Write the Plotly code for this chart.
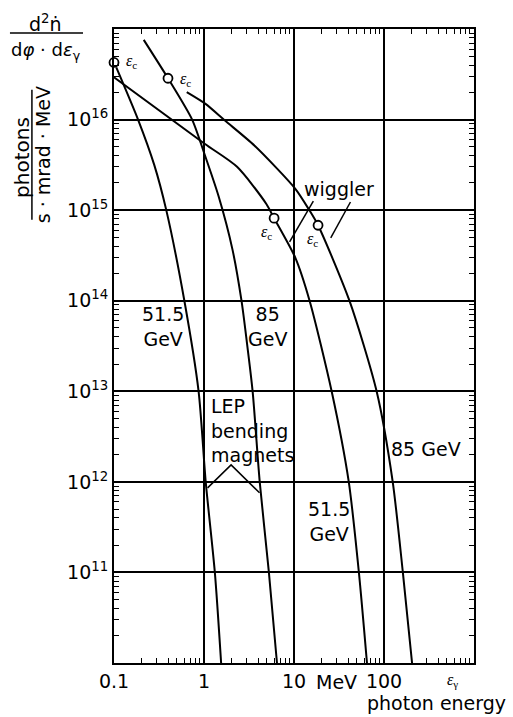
import numpy as np
import plotly.graph_objects as go

# ---------------- data (photon energy in MeV, photons / s mrad MeV) ----------------
bend_515_x = [0.106, 0.185, 0.280, 0.381, 0.605, 0.871, 1.045, 1.32, 1.55]
bend_515_y = [3.77e16, 1.0e16, 3.16e15, 1.0e15, 1.0e14, 1.0e13, 1.0e12, 1.0e11, 1.0e10]

bend_85_x = [0.214, 0.398, 0.738, 1.01, 1.45, 2.07, 2.61, 2.97, 3.47, 4.16, 5.26, 6.47]
bend_85_y = [7.59e16, 2.86e16, 1.0e16, 4.19e15, 1.43e15, 3.69e14, 1.0e14, 3.72e13, 1.0e13, 1.0e12, 1.0e11, 1.0e10]

wig_515_x = [0.100, 1.016, 2.33, 4.93, 6.01, 10.3, 14.9, 26.2, 40.6, 52.6, 64.7]
wig_515_y = [2.93e16, 5.41e15, 3.01e15, 1.17e15, 8.15e14, 3.01e14, 1.0e14, 1.0e13, 1.0e12, 1.0e11, 1.0e10]

wig_85_x = [0.643, 1.04, 1.71, 3.65, 10.4, 14.8, 18.5, 41.3, 82.8, 125, 162, 205]
wig_85_y = [2.01e16, 1.49e16, 9.75e15, 5.14e15, 1.71e15, 1.0e15, 6.81e14, 1.0e14, 1.0e13, 1.0e12, 1.0e11, 1.0e10]

# critical energies (open circles)
crit_x = [0.1, 0.398, 6.01, 18.5]
crit_y = [4.27e16, 2.86e16, 8.15e14, 6.81e14]

# tick labels
x_tickvals = [0.1, 1, 10, 100]
x_ticktext = ["0.1", "1", "10", "100"]
y_tickvals = [1e11, 1e12, 1e13, 1e14, 1e15, 1e16]
y_ticktext = ["10<sup>11</sup>", "10<sup>12</sup>", "10<sup>13</sup>",
              "10<sup>14</sup>", "10<sup>15</sup>", "10<sup>16</sup>"]

# leader lines (data coordinates)
wig_lead1_x = [16.4, 8.93]
wig_lead1_y = [1.26e15, 4.46e14]
wig_lead2_x = [42.4, 25.6]
wig_lead2_y = [1.23e15, 4.93e14]
bend_lead_x = [1.096, 2.00, 4.14]
bend_lead_y = [8.59e11, 1.54e12, 7.57e11]

FONT = "DejaVu Sans"
SERIF = "Liberation Serif"
BLACK = "black"

fig = go.Figure()

for xs, ys in [(bend_515_x, bend_515_y), (bend_85_x, bend_85_y),
               (wig_515_x, wig_515_y), (wig_85_x, wig_85_y)]:
    fig.add_trace(go.Scatter(x=xs, y=ys, mode="lines",
                             line=dict(color=BLACK, width=2, shape="spline", smoothing=0.7),
                             showlegend=False, hoverinfo="skip"))

for xs, ys in [(wig_lead1_x, wig_lead1_y), (wig_lead2_x, wig_lead2_y), (bend_lead_x, bend_lead_y)]:
    fig.add_trace(go.Scatter(x=xs, y=ys, mode="lines",
                             line=dict(color=BLACK, width=1.5),
                             showlegend=False, hoverinfo="skip"))

fig.add_trace(go.Scatter(x=crit_x, y=crit_y, mode="markers",
                         marker=dict(symbol="circle", size=9, color="white",
                                     line=dict(color=BLACK, width=1.8)),
                         cliponaxis=False, showlegend=False, hoverinfo="skip"))

minor_x = [m * 10.0 ** d for d in range(-1, 3) for m in range(2, 10)]
minor_y = [m * 10.0 ** d for d in range(10, 17) for m in range(2, 10)]

fig.update_xaxes(type="log", range=[-1, 3], showgrid=True, gridcolor=BLACK, gridwidth=1.5,
                 showline=True, linecolor=BLACK, linewidth=2, mirror="allticks",
                 ticks="", tickmode="array", tickvals=x_tickvals, ticktext=x_ticktext,
                 tickfont=dict(family=FONT, size=19, color=BLACK), zeroline=False,
                 minor=dict(tickmode="array", tickvals=minor_x, ticks="inside",
                            ticklen=5, tickwidth=1, tickcolor=BLACK, showgrid=False))
fig.update_yaxes(type="log", range=[10, 17], showgrid=True, gridcolor=BLACK, gridwidth=1.5,
                 showline=True, linecolor=BLACK, linewidth=2, mirror="allticks",
                 ticks="", tickmode="array", tickvals=y_tickvals, ticktext=y_ticktext,
                 tickfont=dict(family=FONT, size=19, color=BLACK), zeroline=False,
                 minor=dict(tickmode="array", tickvals=minor_y, ticks="inside",
                            ticklen=5, tickwidth=1, tickcolor=BLACK, showgrid=False))

L = np.log10
ann = []
def txt(x, y, text, size=19, xanchor="center", align="center", ref="data", angle=0, family=FONT):
    if ref == "data":
        ann.append(dict(x=L(x), y=L(y), xref="x", yref="y", text=text, showarrow=False,
                        font=dict(family=family, size=size, color=BLACK),
                        xanchor=xanchor, yanchor="middle", align=align, textangle=angle))
    else:
        ann.append(dict(x=x, y=y, xref="paper", yref="paper", text=text, showarrow=False,
                        font=dict(family=family, size=size, color=BLACK),
                        xanchor=xanchor, yanchor="middle", align=align, textangle=angle))

# curve labels
txt(0.349, 5.14e13, "51.5<br>GeV")
txt(5.13, 5.14e13, "85<br>GeV")
txt(1.13, 3.66e12, "LEP<br>bending<br>magnets", xanchor="left", align="left")
txt(24.4, 3.61e11, "51.5<br>GeV")
txt(296, 2.31e12, "85 GeV")
txt(31.4, 1.71e15, "wiggler")

# critical energy labels
ec = "<i>ε</i><sub>c</sub>"
txt(0.156, 4.33e16, ec, size=16, family=SERIF)
txt(0.63, 2.74e16, ec, size=16, family=SERIF)
txt(4.99, 5.60e14, ec, size=16, family=SERIF)
txt(16.1, 4.69e14, ec, size=16, family=SERIF)

# axis titles
txt(0.617, -0.030, "MeV", ref="paper")
txt(0.939, -0.028, "<i>ε</i><sub>γ</sub>", size=16, ref="paper", family=SERIF)
txt(0.897, -0.063, "photon energy", ref="paper")
txt(-0.189, 1.010, "d<sup>2</sup>ṅ", ref="paper")
txt(-0.189, 0.9653, "d<i>φ</i> · d<i>ε</i><sub>γ</sub>", size=18, ref="paper")
txt(-0.256, 0.798, "photons", size=20, ref="paper", angle=-90)
txt(-0.197, 0.801, "s · mrad · MeV", size=19, ref="paper", angle=-90)

shapes = [
    dict(type="line", xref="paper", yref="paper", x0=-0.289, x1=-0.086, y0=0.9937, y1=0.9937,
         line=dict(color=BLACK, width=1.5)),
    dict(type="line", xref="paper", yref="paper", x0=-0.228, x1=-0.228, y0=0.699, y1=0.904,
         line=dict(color=BLACK, width=1.5)),
]

fig.update_layout(width=513, height=717, margin=dict(l=114, r=39, t=29, b=54),
                  paper_bgcolor="white", plot_bgcolor="white",
                  annotations=ann, shapes=shapes, showlegend=False,
                  font=dict(family=FONT, color=BLACK))

fig.write_html("out.html")
